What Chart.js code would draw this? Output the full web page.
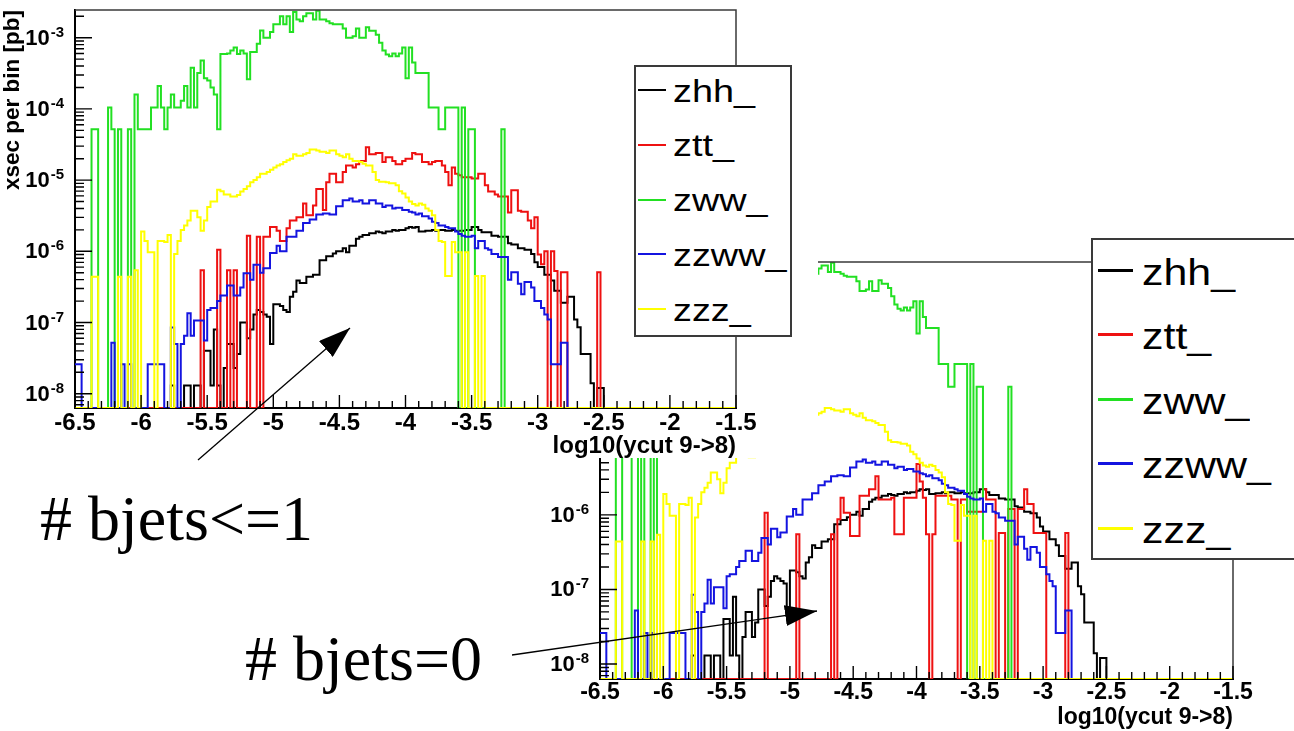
<!DOCTYPE html>
<html>
<head>
<meta charset="utf-8">
<title>log10(ycut 9->8)</title>
<script src="https://cdn.jsdelivr.net/npm/chart.js@4.4.1/dist/chart.umd.min.js"></script>
<style>
  html, body { margin: 0; padding: 0; background: #fff; }
  body { width: 1294px; height: 731px; position: relative; overflow: hidden; font-family: "Liberation Sans", Arial, sans-serif; }
  canvas { display: block; }
  .box { position: absolute; }
  #c2box { left: 500px; top: 240px; width: 794px; height: 491px; z-index: 1; }
  #leg2 { left: 1091px; top: 238px; width: 215px; height: 322px; z-index: 2; }
  #c1box { left: 0; top: 0; width: 818px; height: 458px; background: #fff; z-index: 3; }
  #leg1 { left: 634px; top: 65px; width: 158px; height: 272px; z-index: 4; }
  .legend { background: #fff; border: 2px solid #3a3a3a; box-sizing: border-box; }
  .legend .ln { position: absolute; }
  .legend .tx { position: absolute; transform-origin: left center; color: #000; line-height: 1; white-space: nowrap; }
  .note { position: absolute; z-index: 5; font-family: "Liberation Serif", "Times New Roman", serif; font-size: 64px; line-height: 1; color: #000; white-space: nowrap; }
  #arrows { position: absolute; left: 0; top: 0; z-index: 6; }
</style>
</head>
<body>
<div id="c2box" class="box"><canvas id="c2" width="794" height="491"></canvas></div>
<div id="leg2" class="box legend"></div>
<div id="c1box" class="box"><canvas id="c1" width="818" height="458"></canvas></div>
<div id="leg1" class="box legend"></div>

<div class="note" style="left:40px; top:487px;"># bjets&lt;=1</div>
<div class="note" style="left:245px; top:627px;"># bjets=0</div>

<svg id="arrows" width="1294" height="731">
  <defs>
    <marker id="head" markerUnits="userSpaceOnUse" markerWidth="32" markerHeight="21" refX="32" refY="10.5" orient="auto">
      <path d="M0,0 L32,10.5 L0,21 Z" fill="#000"/>
    </marker>
  </defs>
  <line x1="198" y1="460" x2="350" y2="328" stroke="#000" stroke-width="1.3" marker-end="url(#head)"/>
  <line x1="512" y1="655" x2="817" y2="611" stroke="#000" stroke-width="1.3" marker-end="url(#head)"/>
</svg>

<script>
// 200 bins of 0.025 in log10(ycut 9->8), from -6.5 to -1.5; contents are xsec per bin [pb]
const binLow = -6.5;
const binWidth = 0.025;

const seriesNames = ['zhh_', 'ztt_', 'zww_', 'zzww_', 'zzz_'];
const seriesColors = ['#000000', '#ee1111', '#22e022', '#1414e0', '#ffff00'];

const zhh = [
  0,0,0,0,0,0,0,0,0,0,0,0,0,0,0,0,0,0,0,0,
  0,0,0,0,0,0,0,0,0,1.3e-8,0,0,0,1.3e-8,1.3e-8,0,1.3e-8,1.3e-8,0,4e-8,
  4e-8,1.3e-8,8e-8,1.3e-8,0,2.3e-8,5e-8,5e-8,2.3e-8,3.6e-8,1e-7,1e-7,6e-8,8e-8,1.3e-7,1.5e-7,1.4e-7,1.3e-7,1.2e-7,5e-8,
  1.8e-7,1.8e-7,1.7e-7,1.5e-7,1.4e-7,2.3e-7,2.7e-7,3.9e-7,3.6e-7,3.6e-7,4.4e-7,4.4e-7,4.7e-7,4.7e-7,7.5e-7,7.5e-7,8.5e-7,8.5e-7,9.3e-7,1e-6,
  1e-6,1.1e-6,9.7e-7,1.2e-6,1.2e-6,1.5e-6,1.6e-6,1.7e-6,1.7e-6,1.8e-6,1.8e-6,1.9e-6,1.85e-6,1.8e-6,1.9e-6,1.9e-6,2e-6,1.95e-6,2e-6,2e-6,
  2.1e-6,2.2e-6,2.15e-6,2.2e-6,1.9e-6,1.9e-6,1.95e-6,1.95e-6,2e-6,1.95e-6,2e-6,2e-6,1.95e-6,1.95e-6,2e-6,1.95e-6,1.95e-6,1.95e-6,2e-6,2e-6,
  2.2e-6,2.2e-6,2e-6,1.85e-6,1.85e-6,1.85e-6,1.65e-6,1.65e-6,1.6e-6,1.6e-6,1.6e-6,1.3e-6,1.25e-6,1.25e-6,1.1e-6,1.1e-6,1.05e-6,1.05e-6,9.2e-7,7e-7,
  6e-7,6e-7,4.7e-7,4.7e-7,3.9e-7,2.8e-7,2.8e-7,1.9e-7,1.9e-7,2.3e-7,2.3e-7,1.1e-7,8.6e-8,3.6e-8,3.6e-8,3.6e-8,1.4e-8,0,1.2e-8,1.2e-8,
  0,0,0,0,0,0,0,0,0,0,0,0,0,0,0,0,0,0,0,0,
  0,0,0,0,0,0,0,0,0,0,0,0,0,0,0,0,0,0,0,0
];

// ztt with # bjets <= 1
const zttLe1 = [
  0,0,0,0,0,0,0,0,0,0,0,0,0,0,0,0,0,0,0,0,
  0,0,0,0,0,0,0,0,0,0,0,0,0,0,0,0,0,0,5.4e-7,0,
  0,0,0,1.05e-6,0,0,5.4e-7,0,5.4e-7,0,0,0,1.65e-6,0,0,1.6e-6,0,1.6e-6,1.6e-6,2.2e-6,
  2.2e-6,1.95e-6,1.4e-6,1.4e-6,2.1e-6,2.7e-6,2.7e-6,3e-6,3e-6,4.7e-6,3.2e-6,3.2e-6,4.4e-6,7.5e-6,7.5e-6,3.8e-6,9.3e-6,1.23e-5,1.23e-5,9.3e-6,
  9.3e-6,1.3e-5,1.6e-5,1.6e-5,1.5e-5,1.67e-5,1.86e-5,1.86e-5,2.9e-5,2.3e-5,2.3e-5,2.4e-5,2.4e-5,1.8e-5,2.1e-5,2.1e-5,1.86e-5,1.67e-5,1.67e-5,1.86e-5,
  2e-5,2e-5,2.4e-5,2.3e-5,2.3e-5,1.8e-5,1.8e-5,1.67e-5,1.8e-5,1.86e-5,1.86e-5,1.6e-5,1.3e-5,8.5e-6,1.5e-5,1.23e-5,1.17e-5,1.1e-5,1.1e-5,1.1e-5,
  1.05e-5,1.05e-5,1.23e-5,1.23e-5,8.5e-6,6.9e-6,6.9e-6,6.3e-6,5.9e-6,5.9e-6,5.9e-6,3.5e-6,7.2e-6,7.2e-6,3.7e-6,3.6e-6,3.6e-6,2.7e-6,2.1e-6,3e-6,
  9e-7,6.6e-7,1e-6,0,1e-6,5.3e-7,0,5.1e-7,5.1e-7,0,0,0,0,0,0,0,0,0,5.1e-7,0,
  0,0,0,0,0,0,0,0,0,0,0,0,0,0,0,0,0,0,0,0,
  0,0,0,0,0,0,0,0,0,0,0,0,0,0,0,0,0,0,0,0
];

// ztt with # bjets = 0
const ztt0 = [
  0,0,0,0,0,0,0,0,0,0,0,0,0,0,0,0,0,0,0,0,
  0,0,0,0,0,0,0,0,0,0,0,0,0,0,0,0,0,0,0,0,
  0,0,0,0,0,0,0,0,0,0,0,0,1.07e-6,0,0,0,0,0,0,0,
  0,0,5.5e-7,0,0,0,0,0,0,0,0,0,0,5.5e-7,0,8.7e-7,1.7e-6,1.07e-6,1.07e-6,5.2e-7,
  5.2e-7,5.2e-7,1.8e-6,1.8e-6,1.8e-6,2.2e-6,2.2e-6,3.3e-6,1.6e-6,1.6e-6,1.6e-6,1.6e-6,1.7e-6,5.5e-7,5.5e-7,5.5e-7,1.7e-6,1.7e-6,1.7e-6,1.7e-6,
  4.8e-6,2.8e-6,1.7e-6,5.5e-7,0,5.5e-7,1.8e-6,1.8e-6,1.8e-6,1.8e-6,1.8e-6,1.6e-6,1.6e-6,0,1.6e-6,1.6e-6,1.1e-6,1.1e-6,1.1e-6,1.1e-6,
  1.1e-6,2.2e-6,1.6e-6,1.6e-6,1.6e-6,0,5.7e-7,5.7e-7,0,1.2e-6,1.2e-6,0,1.2e-6,1.2e-6,2.2e-6,1.4e-6,1.4e-6,5.7e-7,5.7e-7,5.7e-7,
  5.7e-7,0,0,0,0,0,0,5.7e-7,0,0,0,0,0,0,0,0,0,0,0,0,
  0,0,0,0,0,0,0,0,0,0,0,0,0,0,0,0,0,0,0,0,
  0,0,0,0,0,0,0,0,0,0,0,0,0,0,0,0,0,0,0,0
];

const zww = [
  0,0,0,0,0,5.2e-5,5.2e-5,0,0,0,1.05e-4,5.2e-5,0,5.2e-5,0,0,5.2e-5,0,1.6e-4,5.2e-5,
  5.2e-5,5.2e-5,5.2e-5,1.05e-4,1.05e-4,2.1e-4,1.05e-4,5.2e-5,1.05e-4,1.6e-4,1.05e-4,1.05e-4,1.3e-4,2.1e-4,1.05e-4,3.8e-4,1.05e-4,3.2e-4,4.8e-4,2.7e-4,
  2.5e-4,2e-4,1.6e-4,5.2e-5,5.9e-4,5.9e-4,6e-4,6.6e-4,7.3e-4,5.9e-4,6.6e-4,6e-4,2.6e-4,6.3e-4,6.3e-4,8.2e-4,1.26e-3,1e-3,1e-3,1.2e-3,
  1.55e-3,1.55e-3,2e-3,1.55e-3,2e-3,1.2e-3,2.3e-3,1.8e-3,1.7e-3,2e-3,2.2e-3,2.2e-3,1.8e-3,2.4e-3,1.8e-3,1.8e-3,1.7e-3,1.6e-3,1.55e-3,1.55e-3,
  1.55e-3,1.35e-3,1e-3,1e-3,1.05e-3,1.35e-3,1e-3,1e-3,1.4e-3,1.25e-3,1.25e-3,1.1e-3,8.5e-4,6.6e-4,5.8e-4,5.5e-4,6e-4,5.5e-4,6e-4,7.3e-4,
  2.7e-4,7.3e-4,4.5e-4,3.2e-4,3.2e-4,3.2e-4,3.2e-4,1.05e-4,1.05e-4,1.05e-4,5.2e-5,5.2e-5,1.05e-4,1.05e-4,1.05e-4,1.05e-4,0,1.05e-4,0,5.2e-5,
  5.2e-5,0,0,0,0,0,0,0,0,5.2e-5,0,0,0,0,0,0,0,0,0,0,
  0,0,0,0,0,0,0,0,0,0,0,0,0,0,0,0,0,0,0,0,
  0,0,0,0,0,0,0,0,0,0,0,0,0,0,0,0,0,0,0,0,
  0,0,0,0,0,0,0,0,0,0,0,0,0,0,0,0,0,0,0,0
];

const zzww = [
  2.6e-8,2.6e-8,0,0,0,0,0,0,0,0,0,5.2e-8,0,0,2.6e-8,0,2.6e-8,0,0,0,
  0,0,2.6e-8,2.6e-8,2.6e-8,2.6e-8,2.6e-8,0,0,8.5e-8,5e-8,0,5e-8,6.5e-8,1.35e-7,6.5e-8,1.07e-7,1.07e-7,1.07e-7,5.6e-8,
  1.5e-7,1.6e-7,1.6e-7,2e-7,2.4e-7,2.4e-7,3.3e-7,3.3e-7,2.4e-7,2.4e-7,3.1e-7,4.9e-7,4.9e-7,4e-7,6.5e-7,6.5e-7,5e-7,5.8e-7,5.8e-7,9.5e-7,
  9.5e-7,1.2e-6,1e-6,1e-6,1.6e-6,1.6e-6,1.6e-6,1.95e-6,1.95e-6,2.5e-6,2.5e-6,2.8e-6,2.8e-6,3.3e-6,3.3e-6,3.4e-6,3.4e-6,3.3e-6,3.3e-6,4.3e-6,
  4.3e-6,5.2e-6,5.2e-6,5.5e-6,5e-6,5e-6,5.2e-6,4.7e-6,4.7e-6,5.2e-6,5.2e-6,4.7e-6,4.7e-6,4.2e-6,4.4e-6,4.4e-6,4e-6,4.1e-6,4.1e-6,3.8e-6,
  3.8e-6,3.6e-6,3.5e-6,3.3e-6,3.4e-6,3.1e-6,3.1e-6,2.9e-6,2.6e-6,2.5e-6,2.3e-6,2.3e-6,2.2e-6,2.1e-6,2.1e-6,1.9e-6,1.75e-6,1.65e-6,1.6e-6,1.6e-6,
  1.65e-6,1.1e-6,1.4e-6,1.4e-6,1.1e-6,1.05e-6,9.2e-7,9.2e-7,8.3e-7,8.3e-7,8.3e-7,4e-7,5.1e-7,5.1e-7,3.5e-7,2.5e-7,3.7e-7,3.7e-7,3.1e-7,2e-7,
  2e-7,1.6e-7,1.3e-7,1.1e-7,2.6e-8,2.6e-8,2.6e-8,5.2e-8,5.2e-8,0,0,0,0,0,0,0,0,0,0,0,
  0,0,0,0,0,0,0,0,0,0,0,0,0,0,0,0,0,0,0,0,
  0,0,0,0,0,0,0,0,0,0,0,0,0,0,0,0,0,0,0,0
];

const zzz = [
  0,0,0,0,0,4.4e-7,4.4e-7,0,0,0,0,0,0,4.4e-7,0,0,4.4e-7,0,5.4e-7,0,
  1.9e-6,1.4e-6,9.7e-7,9.7e-7,0,1.4e-6,1.4e-6,1.35e-6,1.7e-6,0,9.2e-7,1.4e-6,2e-6,2.3e-6,2.7e-6,3.7e-6,3.7e-6,3e-6,1.95e-6,2.7e-6,
  4.2e-6,5e-6,5e-6,7.3e-6,7e-6,6.3e-6,6.3e-6,5.9e-6,5.9e-6,6.2e-6,6.9e-6,7.5e-6,8.2e-6,9.3e-6,1e-5,1.1e-5,1.23e-5,1.23e-5,1.3e-5,1.4e-5,
  1.5e-5,1.6e-5,1.67e-5,1.8e-5,1.9e-5,2e-5,2.3e-5,2.2e-5,2.2e-5,2.3e-5,2.4e-5,2.7e-5,2.7e-5,2.6e-5,2.5e-5,2.5e-5,2.4e-5,2.6e-5,2.6e-5,2.3e-5,
  2.2e-5,2.1e-5,2.3e-5,2e-5,1.86e-5,1.86e-5,1.8e-5,1.7e-5,1.6e-5,1.6e-5,1.3e-5,1e-5,9.5e-6,9.5e-6,9.3e-6,9e-6,9e-6,8.5e-6,7e-6,6.5e-6,
  5.7e-6,5e-6,4.6e-6,4.4e-6,4.7e-6,4.5e-6,4e-6,3.7e-6,3.2e-6,2e-6,1.4e-6,1.35e-6,4.5e-7,4.5e-7,1.35e-6,9.7e-7,9.7e-7,0,9.7e-7,0,
  0,4.5e-7,0,4.5e-7,0,0,0,0,0,0,0,0,0,0,0,0,0,0,0,0,
  0,0,0,0,0,0,0,0,0,0,0,0,0,0,0,0,0,0,0,0,
  0,0,0,0,0,0,0,0,0,0,0,0,0,0,0,0,0,0,0,0,
  0,0,0,0,0,0,0,0,0,0,0,0,0,0,0,0,0,0,0,0
];

const X_MIN = -6.5, X_MAX = -1.5;
const Y_MIN = 6.3e-9, Y_MAX = 2.45e-3;
const FONT = '"Liberation Sans", Arial, Helvetica, sans-serif';

// histogram outline: one point per bin low edge, plus the upper edge of the last bin;
// empty bins sit on the bottom of the frame like ROOT draws them
function toSteps(values) {
  const pts = values.map((v, i) => ({ x: binLow + i * binWidth, y: v > 0 ? v : Y_MIN }));
  const last = values[values.length - 1];
  pts.push({ x: binLow + values.length * binWidth, y: last > 0 ? last : Y_MIN });
  return pts;
}

// frame, inward ticks and 10^n labels in ROOT style
const rootStyle = {
  id: 'rootStyle',
  afterDatasetsDraw(chart, args, opts) {
    const { ctx, chartArea: a, scales: { x, y } } = chart;
    ctx.save();
    ctx.strokeStyle = '#3a3a3a';
    ctx.lineWidth = 1.5;
    ctx.beginPath();
    ctx.moveTo(a.left, a.top); ctx.lineTo(a.right, a.top); ctx.lineTo(a.right, a.bottom);
    ctx.stroke();

    ctx.strokeStyle = '#000';
    ctx.lineWidth = 1.4;
    ctx.beginPath();
    for (let k = 0; k <= 50; k++) {
      const px = x.getPixelForValue(X_MIN + k * 0.1);
      const len = k % 5 === 0 ? opts.majorX : opts.minorX;
      ctx.moveTo(px, a.bottom); ctx.lineTo(px, a.bottom - len);
    }
    for (let e = -9; e <= -2; e++) {
      for (let m = 1; m <= 9; m++) {
        const v = m * Math.pow(10, e);
        if (v < Y_MIN || v > Y_MAX) continue;
        const py = y.getPixelForValue(v);
        ctx.moveTo(a.left, py); ctx.lineTo(a.left + (m === 1 ? opts.majorY : opts.minorY), py);
      }
    }
    ctx.stroke();
    ctx.restore();
  },
  afterDraw(chart, args, opts) {
    const { ctx, chartArea: a, scales: { y } } = chart;
    ctx.save();
    ctx.fillStyle = '#000';
    ctx.textAlign = 'right';
    for (let e = -8; e <= -3; e++) {
      const py = y.getPixelForValue(Math.pow(10, e));
      const exp = String(e);
      ctx.font = `bold ${opts.expSize}px ${FONT}`;
      ctx.textBaseline = 'alphabetic';
      const ew = ctx.measureText(exp).width;
      const right = a.left - opts.gap;
      ctx.fillText(exp, right, py + opts.expDy);
      ctx.font = `bold ${opts.baseSize}px ${FONT}`;
      ctx.textBaseline = 'middle';
      ctx.fillText('10', right - ew - 1, py + opts.baseDy);
    }
    ctx.restore();
  }
};

function makeChart(canvasId, zttValues, s) {
  const series = [zhh, zttValues, zww, zzww, zzz];
  const datasets = series.map((vals, i) => ({
    label: seriesNames[i],
    data: toSteps(vals),
    borderColor: seriesColors[i],
    borderWidth: 2,
    pointRadius: 0,
    stepped: 'before',
    fill: false,
    order: series.length - i
  }));
  return new Chart(document.getElementById(canvasId), {
    type: 'line',
    data: { datasets },
    options: {
      responsive: false,
      animation: false,
      events: [],
      layout: { padding: { left: 0, top: s.top, right: s.right, bottom: 0 } },
      plugins: {
        legend: { display: false },
        tooltip: { enabled: false },
        rootStyle: {
          majorX: 13, minorX: 7, majorY: 17, minorY: 9,
          baseSize: s.labelSize, expSize: s.expSize, gap: 11, baseDy: 1, expDy: -1
        }
      },
      scales: {
        x: {
          type: 'linear', min: X_MIN, max: X_MAX,
          afterFit: sc => { sc.height = s.xHeight; },
          grid: { display: false, drawTicks: false },
          border: { display: true, color: '#000', width: 2 },
          ticks: {
            stepSize: 0.5, autoSkip: false, maxRotation: 0, padding: s.tickPad, color: '#000',
            font: { family: FONT, size: s.tickSize, weight: 'bold' },
            callback: v => String(v)
          },
          title: {
            display: true, text: 'log10(ycut 9->8)', align: 'end', color: '#000', padding: 0,
            font: { family: FONT, size: s.titleSize, weight: 'bold', lineHeight: s.titleLH }
          }
        },
        y: {
          type: 'logarithmic', min: Y_MIN, max: Y_MAX,
          afterFit: sc => { sc.width = s.yWidth; },
          grid: { display: false, drawTicks: false },
          border: { display: true, color: '#000', width: 2 },
          ticks: { display: false },
          title: {
            display: true, text: 'xsec per bin [pb]', align: 'end', color: '#000', padding: 0,
            font: { family: FONT, size: s.yTitleSize, weight: 'bold', lineHeight: 1.1 }
          }
        }
      }
    },
    plugins: [rootStyle]
  });
}

function buildLegend(el, s) {
  seriesNames.forEach((name, i) => {
    const cy = s.first + i * s.step;
    const ln = document.createElement('div');
    ln.className = 'ln';
    ln.style.left = s.lineLeft + 'px';
    ln.style.width = s.lineWidth + 'px';
    ln.style.height = s.lineThick + 'px';
    ln.style.top = (cy - s.lineThick / 2) + 'px';
    ln.style.background = seriesColors[i];
    el.appendChild(ln);
    const tx = document.createElement('div');
    tx.className = 'tx';
    tx.textContent = name;
    tx.style.left = s.textLeft + 'px';
    tx.style.fontSize = s.fontSize + 'px';
    tx.style.top = (cy + s.textDy - s.fontSize / 2) + 'px';
    tx.style.transform = `scaleX(${s.stretch})`;
    el.appendChild(tx);
  });
}

// # bjets=0, drawn underneath
makeChart('c2', ztt0, {
  top: 22, right: 61, xHeight: 52, yWidth: 100,
  tickSize: 23, tickPad: 0, titleSize: 23, titleLH: 1.15, yTitleSize: 22,
  labelSize: 22, expSize: 15
});
// # bjets<=1, on top
makeChart('c1', zttLe1, {
  top: 10, right: 82, xHeight: 50, yWidth: 75,
  tickSize: 24, tickPad: 1, titleSize: 24, titleLH: 1.0, yTitleSize: 22.5,
  labelSize: 22, expSize: 15
});

buildLegend(document.getElementById('leg1'), {
  first: 23, step: 54.75, lineLeft: 2, lineWidth: 28, lineThick: 2,
  textLeft: 37, fontSize: 31, textDy: 1, stretch: 1.22
});
buildLegend(document.getElementById('leg2'), {
  first: 30, step: 64.5, lineLeft: 5, lineWidth: 35, lineThick: 3,
  textLeft: 49, fontSize: 37, textDy: 2, stretch: 1.16
});
</script>
</body>
</html>
